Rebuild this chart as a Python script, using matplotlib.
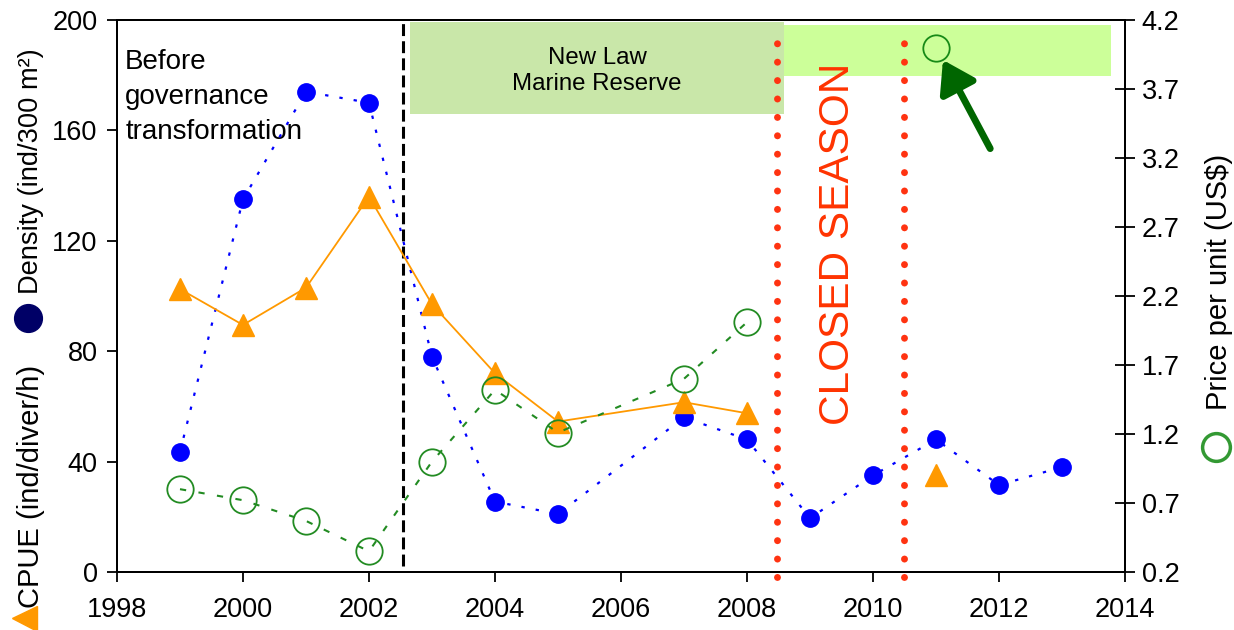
import matplotlib.pyplot as plt
from matplotlib.patches import Rectangle
from matplotlib.lines import Line2D

plt.rcParams["font.family"] = ["Liberation Sans", "DejaVu Sans"]

# sea cucumber survey series
density_years = [1999, 2000, 2001, 2002, 2003, 2004, 2005, 2007, 2008, 2009, 2010, 2011, 2012, 2013]
density = [43.5, 135, 174, 170, 78, 25.5, 21, 56, 48, 19.5, 35, 48, 31.5, 38]

cpue_years = [1999, 2000, 2001, 2002, 2003, 2004, 2005, 2007, 2008]
cpue = [102.5, 89.5, 103, 136, 97, 72, 54.5, 61.5, 57.5]
cpue_2011 = 35

price_years = [1999, 2000, 2001, 2002, 2003, 2004, 2005, 2007, 2008]
price = [0.80, 0.72, 0.57, 0.35, 1.00, 1.52, 1.21, 1.60, 2.01]
price_2011 = 4.0

x_ticks = [1998, 2000, 2002, 2004, 2006, 2008, 2010, 2012, 2014]
left_ticks = [0, 40, 80, 120, 160, 200]
right_ticks = [0.2, 0.7, 1.2, 1.7, 2.2, 2.7, 3.2, 3.7, 4.2]

fig = plt.figure(figsize=(12.34, 6.30), dpi=100)
ax = fig.add_axes([0.0948, 0.0921, 0.8169, 0.8762])
ax2 = ax.twinx()

# shaded periods
ax.add_patch(Rectangle((2008.44, 179.7), 5.34, 18.5, facecolor="#CCFF99", edgecolor="none", zorder=0))
ax.add_patch(Rectangle((2002.65, 165.8), 5.93, 33.3, facecolor="#C9E7A9", edgecolor="none", zorder=0.5))
ax.text(2005.62, 181.5, "New Law\nMarine Reserve", ha="center", va="center",
        fontsize=17.3, linespacing=1.2, zorder=3)

# governance change and closed season markers
ax.plot([2002.54, 2002.54], [2, 200], color="black", lw=2.2,
        linestyle=(0, (3.9, 1.7)), zorder=1)
for xc in [2008.47, 2010.49]:
    ax.plot([xc, xc], [-2, 198], color="#FF3311", lw=5, linestyle=(0, (0.01, 2.64)),
            dash_capstyle="round", clip_on=False, zorder=1)
ax.text(2009.45, 119, "CLOSED SEASON", rotation=90, ha="center", va="center",
        fontsize=30.5, color="#FF3300")
ax.text(1998.13, 189.5, "Before\ngovernance\ntransformation", ha="left", va="top",
        fontsize=20, linespacing=1.45)

# density and CPUE on the left axis
ax.plot(density_years, density, color="#0000FF", lw=1.6, linestyle=(0, (1.5, 5)),
        marker="o", markersize=12.5, zorder=4)
ax.plot(cpue_years, cpue, color="#FF9900", lw=1.3, marker="^", markersize=16.5, zorder=4)
ax.plot([2011], [cpue_2011], color="#FF9900", marker="^", markersize=16.5, zorder=4)

# price on the right axis
ax2.plot(price_years, price, color="#228B22", lw=1.5, linestyle=(0, (3, 6)),
         marker="o", markersize=19, markerfacecolor="none", markeredgewidth=1.3)
ax2.plot([2011], [price_2011], color="#178A17", marker="o", markersize=19,
         markerfacecolor="none", markeredgewidth=1.3)
ax.annotate("", xy=(2011.11, 185.5), xytext=(2011.86, 153.4),
            arrowprops=dict(arrowstyle="-|>,head_length=0.85,head_width=0.55",
                            lw=5, color="#006600", mutation_scale=22, shrinkA=0, shrinkB=0),
            zorder=5)

ax.set_xlim(1998, 2014)
ax.set_ylim(0, 200)
ax2.set_ylim(0.2, 4.2)
ax.set_xticks(x_ticks)
ax.set_yticks(left_ticks)
ax2.set_yticks(right_ticks)
ax2.set_yticklabels([f"{v:.1f}" for v in right_ticks])

ax.tick_params(axis="x", direction="out", length=7, width=1.3, labelsize=19.5, pad=11)
ax.tick_params(axis="y", direction="out", length=7, width=1.3, labelsize=19.5, pad=7)
ax2.tick_params(axis="y", direction="inout", length=14, width=1.3, labelsize=19.5, pad=5)
for a in (ax, ax2):
    for s in a.spines.values():
        s.set_linewidth(1.4)

# composite axis labels with series symbols
fig.text(0.0251, 0.7278, "Density (ind/300 m²)", rotation=90, ha="center", va="center", fontsize=19.6)
fig.text(0.0251, 0.2286, "CPUE (ind/diver/h)", rotation=90, ha="center", va="center", fontsize=21)
fig.add_artist(Line2D([0.0227], [0.4952], transform=fig.transFigure, marker="o",
                      markersize=20, color="#000066", linestyle="none"))
fig.add_artist(Line2D([0.0194], [0.019], transform=fig.transFigure, marker="<",
                      markersize=18, color="#FF9900", linestyle="none"))
fig.text(0.9877, 0.5524, "Price per unit (US$)", rotation=90, ha="center", va="center", fontsize=21)
fig.add_artist(Line2D([0.9854], [0.2905], transform=fig.transFigure, marker="o",
                      markersize=20, markerfacecolor="none", markeredgecolor="#339933",
                      markeredgewidth=2.5, linestyle="none"))

fig.savefig("out.png", dpi=100)
